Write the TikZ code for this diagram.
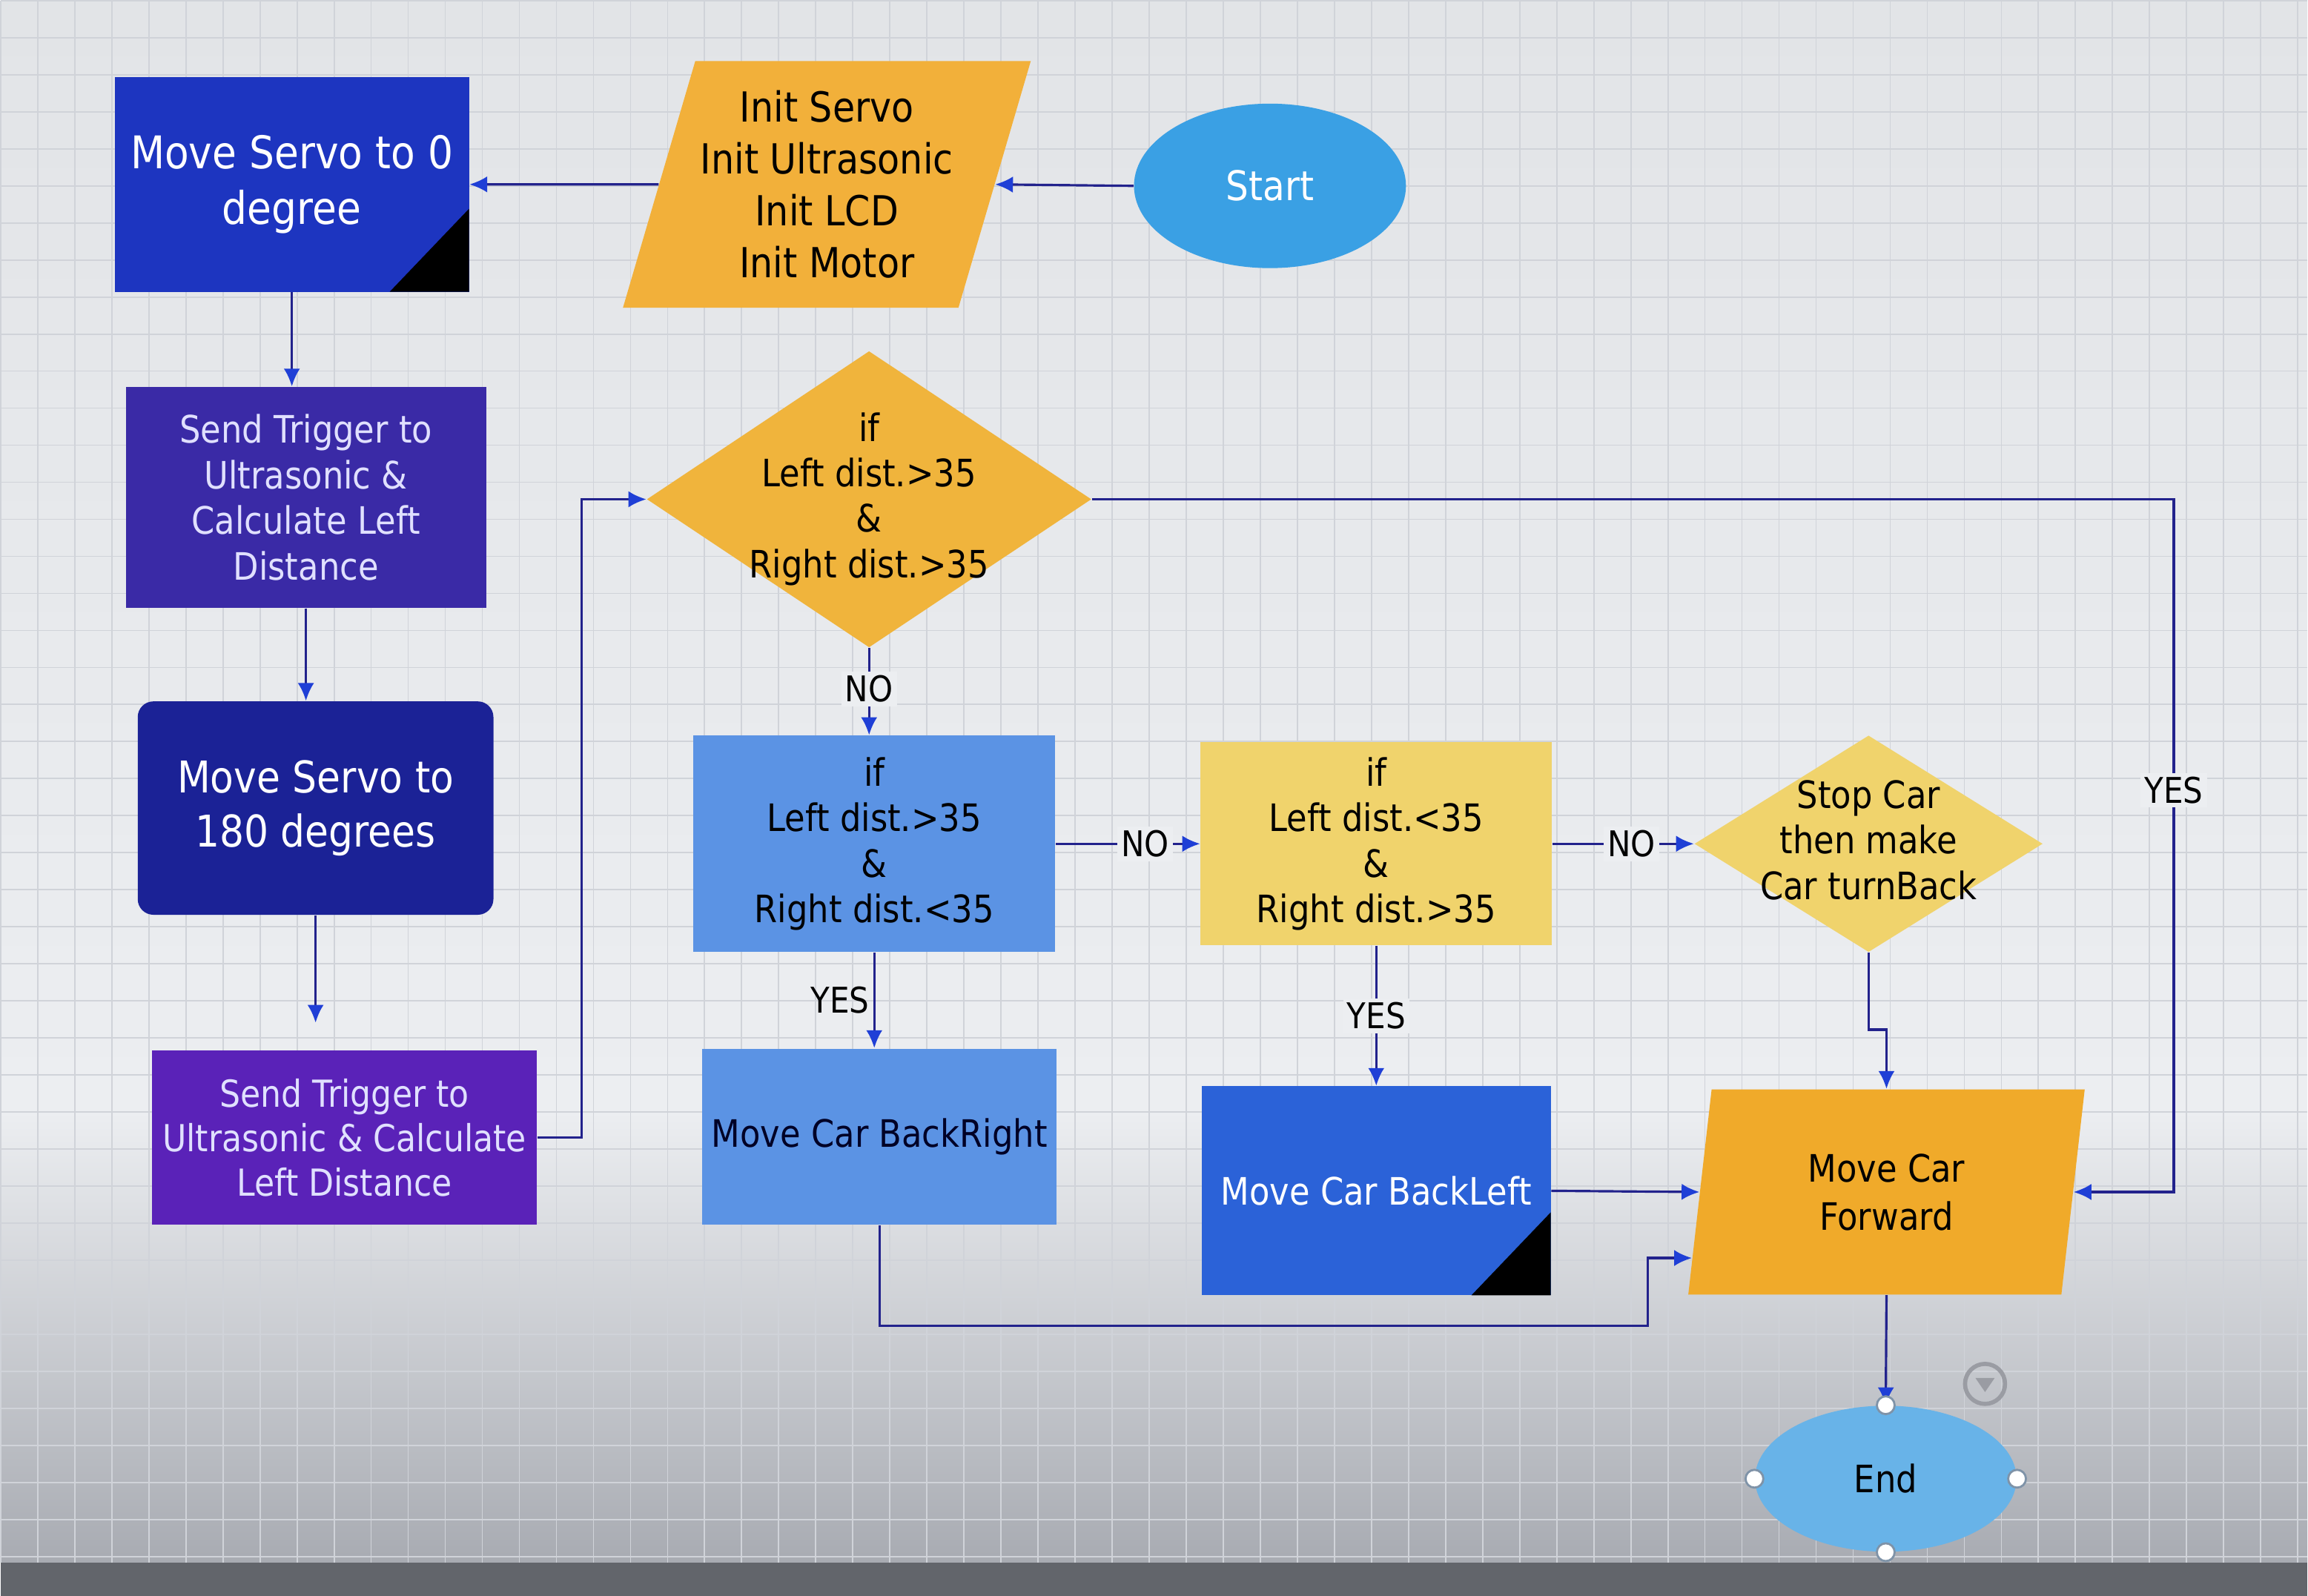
\documentclass[tikz,border=0pt]{standalone}
\usepackage{fontspec}
\setmainfont{DejaVu Sans}[FakeStretch=0.88]
\usetikzlibrary{shapes.geometric, positioning, arrows.meta, calc}

\definecolor{servoblue}{HTML}{1D35C0}
\definecolor{trigindigo}{HTML}{3A2AA6}
\definecolor{servonavy}{HTML}{1B2296}
\definecolor{trigviolet}{HTML}{5A22B8}
\definecolor{initamber}{HTML}{F2B03A}
\definecolor{decamber}{HTML}{F0B43C}
\definecolor{midblue}{HTML}{5B93E4}
\definecolor{paleyellow}{HTML}{F0D36C}
\definecolor{backblue}{HTML}{2B62D8}
\definecolor{fwdamber}{HTML}{F0AA2A}
\definecolor{startblue}{HTML}{3AA0E4}
\definecolor{endblue}{HTML}{68B3E8}
\definecolor{lineblue}{HTML}{22228C}
\definecolor{tipblue}{HTML}{1F3FD6}
\definecolor{gridgrey}{HTML}{D0D3D9}
\definecolor{paper}{HTML}{ECEEF1}
\definecolor{papertop}{HTML}{E2E4E7}
\definecolor{screenlow}{HTML}{A8ABB2}
\definecolor{bezel}{HTML}{62656B}
\definecolor{handlegrey}{HTML}{7F93A8}
\definecolor{icongrey}{HTML}{9A9CA3}

% text lines that may stick out of a diamond
\newcommand{\smashlines}[1]{\smash{\raisebox{-4pt}{\begin{tabular}{@{}c@{}}#1\end{tabular}}}}

\begin{document}
\begin{tikzpicture}[
  >={Latex[length=2.4mm,width=2.2mm,color=tipblue]},
  font=\fontsize{14.5}{17.5}\selectfont,
  proc/.style={rectangle, align=center, inner sep=2pt},
  dec/.style={diamond, align=center, inner sep=0pt},
  io/.style={trapezium, trapezium stretches body, align=center, inner sep=2pt},
  term/.style={ellipse, align=center, inner sep=0pt},
  blackcorner/.style={path picture={\fill[black] (path picture bounding box.south east) -- ++(-1.07,0) -- ++(1.07,1.12) -- cycle;}},
  arr/.style={->, draw=lineblue, line width=0.9pt},
  lbl/.style={fill=paper, inner sep=1.5pt, font=\fontsize{13.6}{16}\selectfont},
  gridline/.style={draw=gridgrey, line width=0.5pt},
  handle/.style={draw=handlegrey, fill=white, line width=0.8pt}
]
  % screen
  \shade[top color=papertop, bottom color=paper] (0,0) rectangle (31.13,-15);
  \shade[top color=paper, bottom color=screenlow] (0,-15) rectangle (31.13,-21.08);
  \fill[bezel] (0,-21.08) rectangle (31.13,-21.53);
  \draw[gridline, step=0.5cm] (0,0) grid (31.13,-21.08);
  \useasboundingbox (0,0) rectangle (31.13,-21.53);

  \node[proc, fill=servoblue, text=white, minimum width=4.78cm, minimum height=2.9cm, blackcorner,
        font=\fontsize{17.3}{21.5}\selectfont] (servoA) at (3.93,-2.48) {Move Servo to 0\\degree};
  \node[io, fill=initamber, trapezium left angle=70, trapezium right angle=110, minimum width=5.32cm,
        minimum height=3.33cm, font=\fontsize{15.9}{20}\selectfont] (init) at (11.15,-2.48)
        {Init Servo\\Init Ultrasonic\\Init LCD\\Init Motor};
  \node[term, fill=startblue, text=white, minimum width=3.67cm, minimum height=2.22cm,
        font=\fontsize{15.7}{19}\selectfont] (start) at (17.13,-2.50) {Start};

  \node[proc, fill=trigindigo, text=white!88!blue, minimum width=4.86cm, minimum height=2.98cm,
        below=1.27cm of servoA, xshift=1.9mm] (trigA) {Send Trigger to\\Ultrasonic \&\\Calculate Left\\Distance};
  \node[proc, fill=servonavy, text=white, rounded corners=6pt, minimum width=4.8cm, minimum height=2.88cm,
        below=1.25cm of trigA, xshift=1.3mm, font=\fontsize{16.8}{20.8}\selectfont] (servoB) {Move Servo to\\180 degrees};
  \node[proc, fill=trigviolet, text=white!88!blue, minimum width=5.2cm, minimum height=2.35cm,
        below=1.82cm of servoB, xshift=3.9mm, font=\fontsize{14.3}{17}\selectfont] (trigB)
        {Send Trigger to\\Ultrasonic \& Calculate\\Left Distance};

  \node[dec, fill=decamber, minimum width=6cm, minimum height=4cm] (decA) at (11.72,-6.73)
        {\smashlines{if\\Left dist.>35\\\&\\Right dist.>35}};
  \node[proc, fill=midblue, minimum width=4.88cm, minimum height=2.92cm] (decB) at (11.79,-11.38)
        {if\\Left dist.>35\\\&\\Right dist.<35};
  \node[proc, fill=paleyellow, minimum width=4.74cm, minimum height=2.74cm, right=1.95cm of decB] (decC)
        {if\\Left dist.<35\\\&\\Right dist.>35};
  \node[dec, fill=paleyellow, minimum width=4.7cm, minimum height=2.78cm, right=1.91cm of decC] (stopc)
        {\smashlines{Stop Car\\then make\\Car turnBack}};

  \node[proc, fill=midblue, text=black!85!blue, minimum width=4.78cm, minimum height=2.38cm,
        below=1.29cm of decB, xshift=0.7mm] (backR) {Move Car BackRight};
  \node[proc, fill=backblue, text=white, minimum width=4.71cm, minimum height=2.82cm, blackcorner,
        below=1.89cm of decC] (backL) {Move Car BackLeft};
  \node[io, fill=fwdamber, trapezium left angle=75, trapezium right angle=105, minimum width=5.35cm,
        minimum height=2.77cm, font=\fontsize{14.5}{18.5}\selectfont] (fwd) at (25.45,-16.08) {Move Car\\Forward};
  \node[term, fill=endblue, minimum width=3.53cm, minimum height=1.97cm] (endn) at (25.44,-19.95) {End};

  \coordinate (jog) at (22.23,-17.89);

  \draw[arr] (start.west) -- (init.east);
  \draw[arr] (init.west) -- (servoA.east);
  \draw[arr] (servoA.south) -- (servoA.south |- trigA.north);
  \draw[arr] (trigA.south) -- (trigA.south |- servoB.north);
  \draw[arr, shorten >=0.37cm] (servoB.south) -- (servoB.south |- trigB.north);
  \draw[arr] (trigB.east) -- ++(0.59,0) |- (decA.west);

  \draw[arr] (decA.east) -- ++(14.6,0) |- node[lbl, pos=0.21] {YES} (fwd.east);
  \draw[arr] (decA.south) -- node[lbl, pos=0.47] {NO} (decA.south |- decB.north);
  \draw[arr] (decB.east) -- node[lbl, pos=0.62] {NO} (decC.west);
  \draw[arr] (decC.east) -- node[lbl, pos=0.56] {NO} (stopc.west);
  \draw[arr] (decB.south) -- node[lbl, left, fill=none] {YES} (decB.south |- backR.north);
  \draw[arr] (decC.south) -- node[lbl] {YES} (decC.south |- backL.north);
  \draw[arr] (stopc.south) -- ++(0,-1.04) -| (fwd.center |- fwd.north);
  \draw[arr] (backL.east) -- (fwd.west);
  \draw[arr] (backR.south) |- (jog) |- ($(fwd.bottom left corner)!0.18!(fwd.top left corner)$);
  \draw[arr] (fwd.center |- fwd.south) -- (endn.north);

  % connection handles and the menu button of the selected shape
  \draw[handle] (endn.north) circle (0.12cm) (endn.south) circle (0.12cm)
                (endn.east) circle (0.12cm) (endn.west) circle (0.12cm);
  \draw[icongrey, line width=1.6pt] (26.78,-18.67) circle (0.27cm);
  \fill[icongrey] (26.65,-18.59) -- (26.91,-18.59) -- (26.78,-18.78) -- cycle;
\end{tikzpicture}
\end{document}
